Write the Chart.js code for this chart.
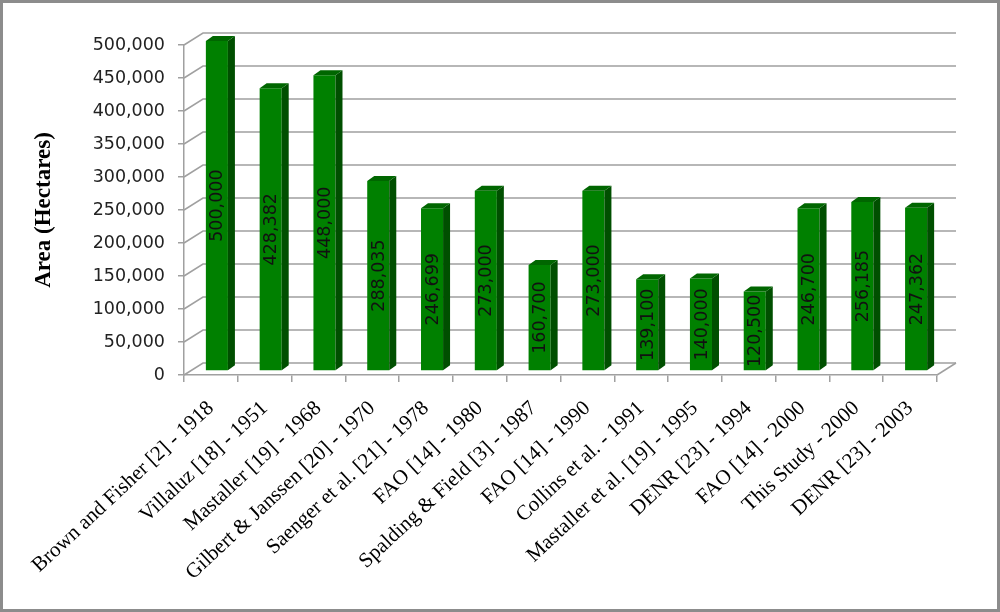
<!DOCTYPE html>
<html>
<head>
<meta charset="utf-8">
<script src="https://cdn.jsdelivr.net/npm/chart.js@4/dist/chart.umd.min.js"></script>
<style>
  html, body { margin: 0; padding: 0; background: #fff; }
  canvas { display: block; }
</style>
</head>
<body>
<canvas id="chart" width="1000" height="612"></canvas>
<script>
// Data
const sources = [
  "Brown and Fisher [2] - 1918",
  "Villaluz [18] - 1951",
  "Mastaller [19] - 1968",
  "Gilbert & Janssen [20] - 1970",
  "Saenger et al. [21] - 1978",
  "FAO [14] - 1980",
  "Spalding & Field [3] - 1987",
  "FAO [14] - 1990",
  "Collins et al. - 1991",
  "Mastaller et al. [19] - 1995",
  "DENR [23] - 1994",
  "FAO [14] - 2000",
  "This Study - 2000",
  "DENR [23] - 2003"
];
const areaHectares = [500000, 428382, 448000, 288035, 246699, 273000, 160700, 273000, 139100, 140000, 120500, 246700, 256185, 247362];
const yTickStep = 50000;
const yMax = 500000;

// 3D look
const WALL_DX = 19, WALL_DY = -12;   // back wall offset
const BAR_DX = 6, BAR_DY = -4;       // bars sit a bit behind the front axis
const DEPTH_X = 7, DEPTH_Y = -5;     // bar depth
const gridColor = "#a0a0a0";

const fmt = v => v.toLocaleString("en-US");

const fake3d = {
  id: "fake3d",
  beforeDatasetsDraw(chart) {
    const ctx = chart.ctx;
    const { left, right, bottom } = chart.chartArea;
    const y = chart.scales.y;
    ctx.save();
    ctx.strokeStyle = gridColor;
    ctx.lineWidth = 1.5;
    y.ticks.forEach(t => {
      const py = y.getPixelForValue(t.value);
      ctx.beginPath();
      ctx.moveTo(left, py);
      ctx.lineTo(left + WALL_DX, py + WALL_DY);
      ctx.lineTo(right + WALL_DX, py + WALL_DY);
      ctx.stroke();
    });
    // floor right edge
    ctx.beginPath();
    ctx.moveTo(right, bottom);
    ctx.lineTo(right + WALL_DX, bottom + WALL_DY);
    ctx.stroke();
    ctx.restore();

    ctx.save();
    ctx.translate(BAR_DX, BAR_DY);
  },
  afterDatasetsDraw(chart) {
    const ctx = chart.ctx;
    const meta = chart.getDatasetMeta(0);
    meta.data.forEach((bar, i) => {
      const xl = bar.x - bar.width / 2, xr = bar.x + bar.width / 2;
      const top = bar.y, base = bar.base;
      // side
      ctx.fillStyle = "#004f00";
      ctx.beginPath();
      ctx.moveTo(xr, top);
      ctx.lineTo(xr + DEPTH_X, top + DEPTH_Y);
      ctx.lineTo(xr + DEPTH_X, base + DEPTH_Y);
      ctx.lineTo(xr, base);
      ctx.closePath();
      ctx.fill();
      // top
      ctx.fillStyle = "#006600";
      ctx.beginPath();
      ctx.moveTo(xl, top);
      ctx.lineTo(xl + DEPTH_X, top + DEPTH_Y);
      ctx.lineTo(xr + DEPTH_X, top + DEPTH_Y);
      ctx.lineTo(xr, top);
      ctx.closePath();
      ctx.fill();
      // value label
      ctx.save();
      ctx.translate(bar.x, (top + base) / 2);
      ctx.rotate(-Math.PI / 2);
      ctx.fillStyle = "#111";
      ctx.font = "17.5px 'DejaVu Sans'";
      ctx.textAlign = "center";
      ctx.textBaseline = "middle";
      ctx.fillText(fmt(areaHectares[i]), 0, 1);
      ctx.restore();
    });
    ctx.restore();
  },
  afterDraw(chart) {
    const ctx = chart.ctx;
    ctx.save();
    ctx.strokeStyle = "#8c8c8c";
    ctx.lineWidth = 3;
    ctx.strokeRect(1.5, 1.5, chart.width - 3, chart.height - 3);
    ctx.restore();
  }
};

new Chart(document.getElementById("chart"), {
  type: "bar",
  data: {
    labels: sources,
    datasets: [{
      data: areaHectares,
      backgroundColor: "#008000",
      borderWidth: 0,
      barPercentage: 0.41,
      categoryPercentage: 1
    }]
  },
  options: {
    responsive: false,
    animation: false,
    layout: { padding: { top: 45, right: 63, left: 0, bottom: 0 } },
    plugins: { legend: { display: false }, tooltip: { enabled: false } },
    scales: {
      x: {
        grid: { drawOnChartArea: false, drawTicks: true, tickLength: 7, color: gridColor, lineWidth: 1.5, offset: true },
        border: { color: gridColor, width: 1.5 },
        ticks: {
          autoSkip: false, minRotation: 43, maxRotation: 43, padding: 14,
          color: "#000", font: { family: "'Liberation Serif', 'Times New Roman', serif", size: 21 }
        },
        afterFit(scale) { scale.height = 612 - 375; }
      },
      y: {
        min: 0, max: yMax,
        grid: { drawOnChartArea: false, drawTicks: true, tickLength: 6, color: gridColor, lineWidth: 1.5 },
        border: { color: gridColor, width: 1.5 },
        ticks: {
          stepSize: yTickStep, padding: 13, color: "#222",
          font: { family: "'DejaVu Sans', Verdana, sans-serif", size: 17.5 },
          callback: v => fmt(v)
        },
        title: {
          display: true, text: "Area (Hectares)", color: "#000",
          font: { family: "'Liberation Serif', 'Times New Roman', serif", size: 23, weight: "bold" },
          padding: { top: 30, bottom: 0 }
        },
        afterFit(scale) { scale.width = 184; }
      }
    }
  },
  plugins: [fake3d]
});
</script>
</body>
</html>
